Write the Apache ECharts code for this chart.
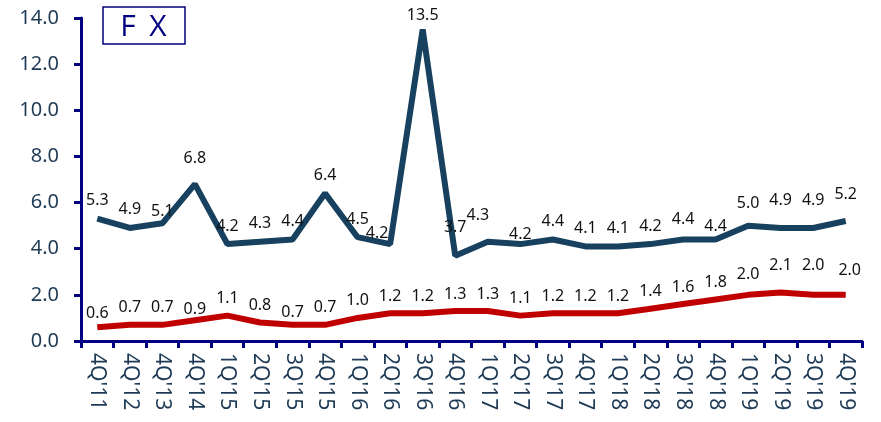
<!DOCTYPE html>
<html>
<head>
<meta charset="utf-8">
<script src="https://cdn.jsdelivr.net/npm/echarts@6/dist/echarts.min.js"></script>
<style>
  html, body { margin: 0; padding: 0; background: #fff; }
  #chart { width: 881px; height: 422px; }
</style>
</head>
<body>
<div id="chart"></div>
<script>
// quarters on the x axis
const categories = [
  "4Q'11", "4Q'12", "4Q'13", "4Q'14", "1Q'15", "2Q'15", "3Q'15", "4Q'15",
  "1Q'16", "2Q'16", "3Q'16", "4Q'16", "1Q'17", "2Q'17", "3Q'17", "4Q'17",
  "1Q'18", "2Q'18", "3Q'18", "4Q'18", "1Q'19", "2Q'19", "3Q'19", "4Q'19"
];

// upper (dark blue) line
const fxHigh = [
  5.3, 4.9, 5.1, 6.8, 4.2, 4.3, 4.4, 6.4, 4.5, 4.2, 13.5, 3.7,
  4.3, 4.2, 4.4, 4.1, 4.1, 4.2, 4.4, 4.4, 5.0, 4.9, 4.9, 5.2
];

// lower (red) line
const fxLow = [
  0.6, 0.7, 0.7, 0.9, 1.1, 0.8, 0.7, 0.7, 1.0, 1.2, 1.2, 1.3,
  1.3, 1.1, 1.2, 1.2, 1.2, 1.4, 1.6, 1.8, 2.0, 2.1, 2.0, 2.0
];

const yTicks = [0, 2, 4, 6, 8, 10, 12, 14];

// some labels sit off their usual spot in the original
const highLabelShift = {
  2: [0, 6], 3: [0, -8], 9: [-13, 7], 10: [0, 4], 11: [0, -10], 12: [-10, -8], 13: [0, 8],
  18: [0, -2], 19: [0, 5], 20: [0, -4], 21: [0, -9], 22: [0, -9], 23: [0, -9]
};
const lowLabelShift = {
  0: [0, 3], 3: [0, 6], 6: [0, 5], 20: [0, -3], 21: [0, -10], 22: [0, -12], 23: [4, -7]
};

const axisNavy = '#000080';
const tickText = '#1F3A55';
const font = '"Noto Sans", sans-serif';

const chart = echarts.init(document.getElementById('chart'));

const withShift = (values, shifts) =>
  values.map((v, i) => (shifts[i] ? { value: v, label: { offset: shifts[i] } } : v));

const pointLabel = (dist) => ({
  show: true, position: 'top', distance: dist, color: '#111',
  fontSize: 16, fontFamily: font,
  formatter: (p) => p.value.toFixed(1)
});

chart.setOption({
  animation: false,
  grid: { left: 81, right: 19, top: 18, bottom: 81 },
  graphic: [
    {
      type: 'rect',
      shape: { x: 103, y: 7, width: 82, height: 37 },
      style: { fill: '#fff', stroke: axisNavy, lineWidth: 1.5 }
    },
    {
      type: 'text', x: 128, y: 27,
      style: { text: 'F', fill: axisNavy, font: '30px "Open Sans", sans-serif', align: 'center', verticalAlign: 'middle' }
    },
    {
      type: 'text', x: 158, y: 27,
      style: { text: 'X', fill: axisNavy, font: '30px "Open Sans", sans-serif', align: 'center', verticalAlign: 'middle' }
    }
  ],
  xAxis: {
    type: 'category',
    data: categories,
    boundaryGap: true,
    axisLine: { lineStyle: { color: axisNavy, width: 3 } },
    axisTick: { show: true, length: 7, lineStyle: { color: axisNavy, width: 3 } },
    axisLabel: { rotate: -90, color: tickText, fontSize: 21, margin: 12, fontFamily: font },
    splitLine: { show: false }
  },
  yAxis: {
    type: 'value',
    min: yTicks[0],
    max: yTicks[yTicks.length - 1],
    interval: 2,
    axisLine: { show: true, lineStyle: { color: axisNavy, width: 3 } },
    axisTick: { show: true, length: 7, lineStyle: { color: axisNavy, width: 3 } },
    axisLabel: {
      color: tickText, fontSize: 20, margin: 22, fontFamily: font,
      formatter: (v) => v.toFixed(1)
    },
    splitLine: { show: false }
  },
  series: [
    {
      type: 'line',
      data: withShift(fxHigh, highLabelShift),
      symbol: 'circle',
      symbolSize: 0.1,
      showSymbol: true,
      lineStyle: { color: '#17415E', width: 6 },
      itemStyle: { color: '#17415E' },
      label: pointLabel(10),
      z: 3
    },
    {
      type: 'line',
      data: withShift(fxLow, lowLabelShift),
      symbol: 'circle',
      symbolSize: 0.1,
      showSymbol: true,
      lineStyle: { color: '#C00000', width: 6 },
      itemStyle: { color: '#C00000' },
      label: pointLabel(9),
      z: 2
    }
  ]
});
</script>
</body>
</html>
